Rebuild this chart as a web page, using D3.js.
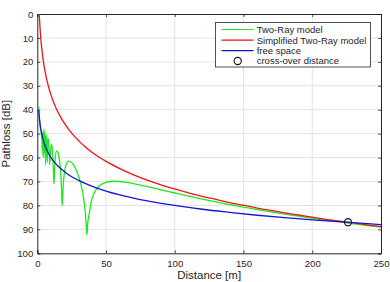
<!DOCTYPE html>
<html>
<head>
<meta charset="utf-8">
<script src="https://cdn.jsdelivr.net/npm/d3@7"></script>
<style>
  html, body { margin: 0; padding: 0; background: #fff; }
  svg { display: block; }
  text { font-family: "Liberation Sans", Arial, Helvetica, sans-serif; fill: #262626; }
</style>
</head>
<body>
<svg id="chart" width="390" height="282"></svg>
<script>
// ---------- data ----------
const xTicks = [0, 50, 100, 150, 200, 250];
const yTicks = [0, 10, 20, 30, 40, 50, 60, 70, 80, 90, 100];

const twoRayDistance = [1.0, 1.4, 1.8, 2.2, 2.6, 3.0, 3.3, 3.63, 3.85, 4.03, 4.25, 4.54, 4.85, 5.18, 5.55, 6.05, 6.5, 6.9, 7.26, 7.6, 8.0, 8.5, 9.07, 9.6, 10.3, 11.0, 11.5, 12.1, 12.5, 13.0, 14.0, 15.0, 16.0, 17.0, 17.5, 17.8, 18.1, 18.5, 19.0, 20, 21, 22, 23, 24, 25, 26, 27, 28, 29, 30, 31, 32, 33, 34, 35, 35.6, 36.1, 36.6, 37, 38, 39, 40, 42, 44, 46, 48, 50, 53, 56, 60, 65, 70, 75, 80, 90, 100, 110, 120, 130, 140, 150, 160, 170, 180, 190, 200, 210, 220, 230, 240, 250];
const twoRayLoss = [38.8, 42.5, 45.0, 47.0, 48.5, 50.0, 52.0, 57.0, 49.5, 59.0, 49.0, 60.0, 48.0, 58.0, 49.5, 63.0, 50.5, 53.0, 62.0, 53.5, 52.1, 55.1, 63.0, 57.5, 54.5, 56.7, 61.8, 71.0, 66.4, 60.6, 57.3, 57.8, 60.6, 66.3, 71.6, 75.5, 80.0, 76.0, 70.6, 65.2, 62.9, 61.8, 61.5, 61.7, 62.0, 62.75, 63.7, 64.8, 66.2, 67.8, 69.6, 71.85, 74.6, 78.2, 83.6, 88.5, 92.3, 88.0, 86.0, 82.6, 79.1, 76.85, 74.1, 72.5, 71.5, 70.8, 70.4, 70.0, 69.9, 70.0, 70.4, 70.9, 71.5, 72.1, 73.5, 74.8, 76.1, 77.35, 78.5, 79.7, 80.7, 81.75, 82.7, 83.65, 84.5, 85.4, 86.2, 86.9, 87.7, 88.4, 89.1];

const simplifiedDistance = [1.3, 1.5, 2, 2.5, 3, 4, 5, 6, 7, 8, 10, 12, 14, 17, 20, 25, 30, 35, 40, 50, 60, 70, 80, 90, 100, 110, 120, 130, 140, 150, 160, 170, 180, 190, 200, 210, 220, 230, 240, 250];
const simplifiedLoss = [0.0, 1.0, 5.9, 9.8, 13.0, 18.0, 21.9, 25.0, 27.7, 30.0, 33.9, 37.1, 39.8, 43.1, 45.9, 49.8, 52.9, 55.6, 57.9, 61.6, 64.6, 67.2, 69.4, 71.4, 73.1, 74.7, 76.2, 77.5, 78.8, 79.9, 81.1, 82.1, 83.1, 84.0, 84.9, 85.8, 86.6, 87.3, 88.1, 88.8];

const freeSpaceDistance = [1, 1.5, 2, 3, 4, 5, 6, 8, 10, 12, 15, 20, 25, 30, 40, 50, 60, 70, 80, 90, 100, 120, 140, 160, 180, 200, 225, 250];
const freeSpaceLoss = [40.0, 43.5, 46.0, 49.5, 52.0, 54.0, 55.6, 58.1, 60.0, 61.6, 63.5, 66.0, 68.0, 69.5, 72.0, 74.0, 75.6, 76.9, 78.1, 79.1, 80.0, 81.6, 82.9, 84.1, 85.1, 86.0, 87.0, 88.0];

const crossOverDistance = [226];
const crossOverLoss = [87.0];

const seriesNames = ["Two-Ray model", "Simplified Two-Ray model", "free space", "cross-over distance"];
const seriesColors = ["#1ee81e", "#ee1515", "#1515d8", "#111111"];

// ---------- layout ----------
const svg = d3.select("#chart");
const L = 37.3, R = 381, T = 14, B = 253.3;
const x = d3.scaleLinear().domain([0, 250]).range([L, R]);
const y = d3.scaleLinear().domain([0, 100]).range([T, B]);
const axisColor = "#262626";

svg.append("defs").append("clipPath").attr("id", "clip")
  .append("rect").attr("x", L).attr("y", T).attr("width", R - L).attr("height", B - T);

// grid
const grid = svg.append("g");
grid.selectAll("line.gx").data(xTicks.slice(1, -1)).join("line")
  .attr("x1", d => x(d)).attr("x2", d => x(d)).attr("y1", T).attr("y2", B)
  .attr("stroke", "#e3e3e3").attr("stroke-width", 1);
grid.selectAll("line.gy").data(yTicks.slice(1, -1)).join("line")
  .attr("y1", d => y(d)).attr("y2", d => y(d)).attr("x1", L).attr("x2", R)
  .attr("stroke", "#e3e3e3").attr("stroke-width", 1);

// axes with inward ticks
const fontTick = "9.6px";
const gx = svg.append("g").attr("transform", `translate(0,${B})`)
  .call(d3.axisBottom(x).tickValues(xTicks).tickSize(-3).tickPadding(7).tickFormat(d3.format("d")));
const gy = svg.append("g").attr("transform", `translate(${L},0)`)
  .call(d3.axisLeft(y).tickValues(yTicks).tickSize(-3).tickPadding(4).tickFormat(d3.format("d")));
const gxt = svg.append("g").attr("transform", `translate(0,${T})`)
  .call(d3.axisTop(x).tickValues(xTicks).tickSize(-3).tickFormat(""));
const gyr = svg.append("g").attr("transform", `translate(${R},0)`)
  .call(d3.axisRight(y).tickValues(yTicks).tickSize(-3).tickFormat(""));
[gx, gy, gxt, gyr].forEach(g => {
  g.select(".domain").attr("stroke", axisColor).attr("stroke-width", 1);
  g.selectAll(".tick line").attr("stroke", axisColor).attr("stroke-width", 0.8);
  g.selectAll(".tick text").attr("fill", axisColor).style("font-size", fontTick)
    .style("font-family", "'Liberation Sans', Arial, sans-serif");
});

// axis labels
svg.append("text").attr("x", (L + R) / 2).attr("y", 279)
  .attr("text-anchor", "middle").style("font-size", "11.5px").text("Distance [m]");
svg.append("text").attr("transform", `translate(10,${(T + B) / 2}) rotate(-90)`)
  .attr("text-anchor", "middle").style("font-size", "11.5px").text("Pathloss [dB]");

// curves
const line = d3.line().x(d => x(d[0])).y(d => y(d[1])).curve(d3.curveMonotoneX);
const plot = svg.append("g").attr("clip-path", "url(#clip)");
const curves = [
  [d3.zip(twoRayDistance, twoRayLoss), seriesColors[0]],
  [d3.zip(simplifiedDistance, simplifiedLoss), seriesColors[1]],
  [d3.zip(freeSpaceDistance, freeSpaceLoss), seriesColors[2]]
];
curves.forEach(([pts, c]) => {
  plot.append("path").datum(pts).attr("d", line)
    .attr("fill", "none").attr("stroke", c).attr("stroke-width", 1.3)
    .attr("stroke-linejoin", "round");
});

// cross-over marker
svg.selectAll("circle.co").data(d3.zip(crossOverDistance, crossOverLoss)).join("circle")
  .attr("cx", d => x(d[0])).attr("cy", d => y(d[1])).attr("r", 3.6)
  .attr("fill", "none").attr("stroke", seriesColors[3]).attr("stroke-width", 1.1);

// legend
const lg = svg.append("g");
lg.append("rect").attr("x", 215.5).attr("y", 22.5).attr("width", 155).attr("height", 44.5)
  .attr("fill", "#fff").attr("stroke", axisColor).attr("stroke-width", 0.8);
const rowsY = [29.5, 40.2, 50.6, 61.0];
seriesNames.forEach((name, i) => {
  const yy = rowsY[i];
  if (i < 3) {
    lg.append("line").attr("x1", 221.5).attr("x2", 253.5).attr("y1", yy).attr("y2", yy)
      .attr("stroke", seriesColors[i]).attr("stroke-width", 1.2);
  } else {
    lg.append("circle").attr("cx", 237.7).attr("cy", yy).attr("r", 3.6)
      .attr("fill", "none").attr("stroke", seriesColors[i]).attr("stroke-width", 1.1);
  }
  lg.append("text").attr("x", 256.7).attr("y", yy).attr("dy", "0.35em")
    .style("font-size", "9.5px").text(name);
});
</script>
</body>
</html>
